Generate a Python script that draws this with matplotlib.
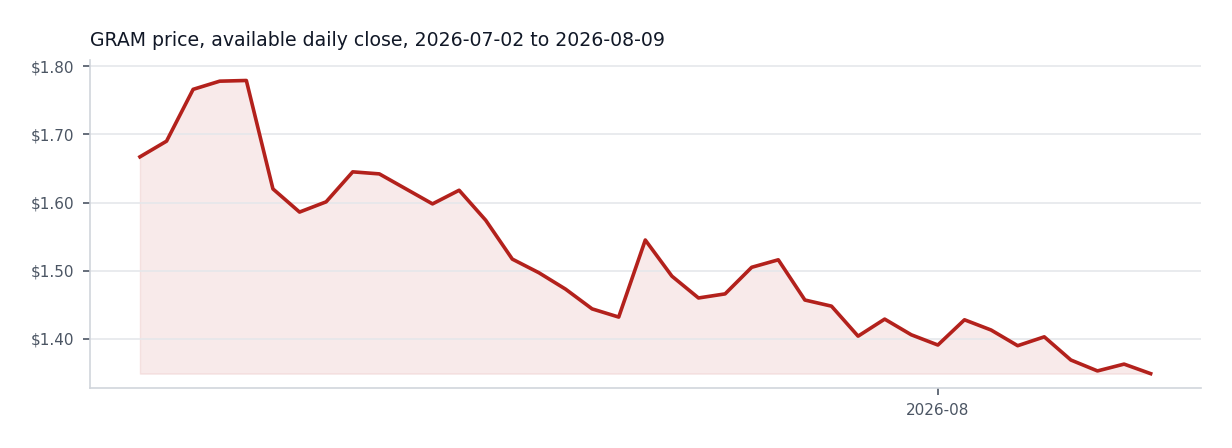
import numpy as np
import pandas as pd
import matplotlib.pyplot as plt
import matplotlib.dates as mdates
from matplotlib.ticker import FuncFormatter

# daily closes
dates = pd.date_range('2026-07-02', '2026-08-09', freq='D')
close = [1.667, 1.690, 1.766, 1.778, 1.779, 1.620, 1.586, 1.601, 1.645, 1.642,
         1.620, 1.598, 1.618, 1.574, 1.517, 1.497, 1.473, 1.444, 1.432, 1.545,
         1.492, 1.460, 1.466, 1.505, 1.516, 1.457, 1.448, 1.404, 1.429, 1.406,
         1.391, 1.428, 1.413, 1.390, 1.403, 1.369, 1.353, 1.363, 1.349]
xtick_dates = [pd.Timestamp('2026-08-01')]
title = 'GRAM price, available daily close, 2026-07-02 to 2026-08-09'

line_col = '#b3211c'
grid_col = '#e5e7eb'
tick_col = '#4b5563'

fig = plt.figure(figsize=(12.32, 4.48), dpi=100)
ax = fig.add_axes([0.073, 0.134, 0.902, 0.732])

base = min(close)
ax.fill_between(dates, close, base, color=line_col, alpha=0.09, lw=1, zorder=1)
ax.plot(dates, close, color=line_col, lw=2.6, zorder=3, solid_joinstyle='round')

ax.set_xlim(dates[0] - pd.Timedelta(days=1.88), dates[0] + pd.Timedelta(days=39.9))
ax.set_ylim(1.328, 1.809)
ax.set_yticks([1.4, 1.5, 1.6, 1.7, 1.8])
ax.yaxis.set_major_formatter(FuncFormatter(lambda v, p: f'${v:.2f}'))
ax.set_xticks(xtick_dates)
ax.xaxis.set_major_formatter(mdates.DateFormatter('%Y-%m'))

ax.grid(axis='y', color=grid_col, lw=1.2, zorder=0)
for s in ['top', 'right']:
    ax.spines[s].set_visible(False)
for s in ['left', 'bottom']:
    ax.spines[s].set_color('#d1d5db')
    ax.spines[s].set_linewidth(1.2)
ax.tick_params(colors=tick_col, labelsize=11, length=5, width=1.2)
ax.tick_params(axis='y', pad=6)
ax.tick_params(axis='x', pad=6)

ax.set_title(title, loc='left', fontsize=13.6, color='#111827', pad=10)

fig.savefig('out.png', dpi=100)
